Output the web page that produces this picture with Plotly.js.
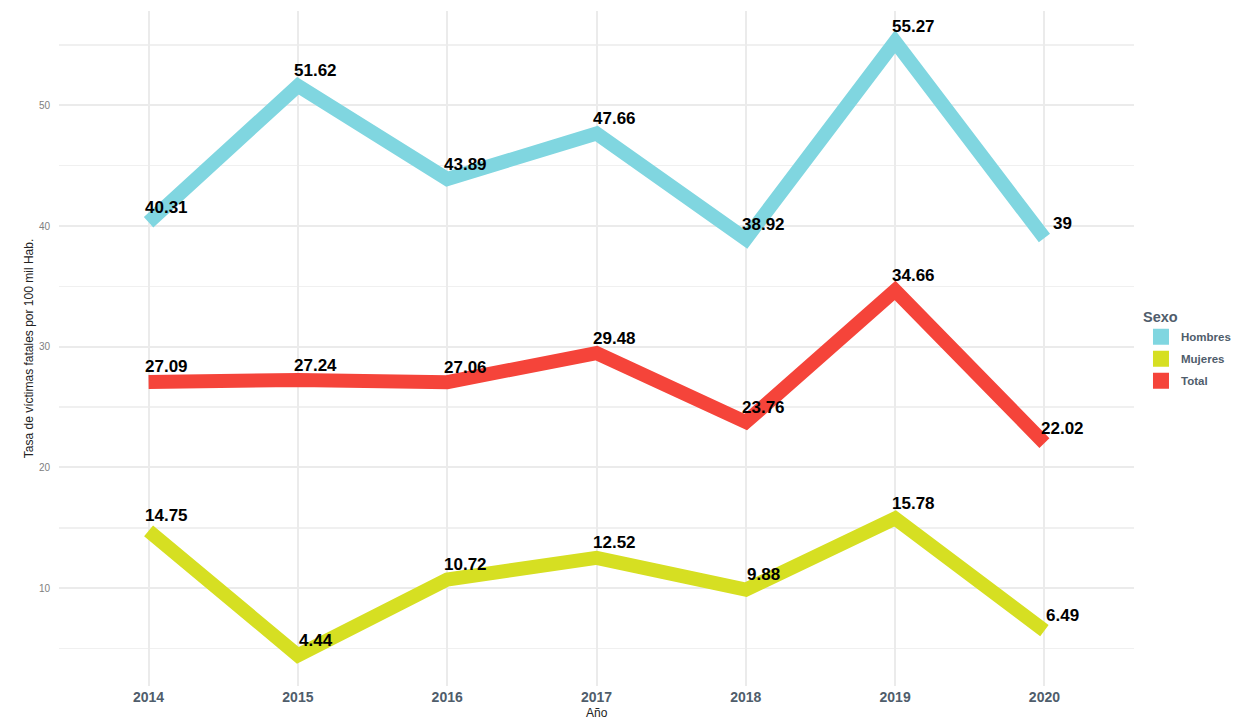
<!DOCTYPE html>
<html>
<head>
<meta charset="utf-8">
<script src="https://cdn.plot.ly/plotly-3.0.1.min.js"></script>
<style>html,body{margin:0;padding:0;background:#fff;}#chart{width:1234px;height:721px;}</style>
</head>
<body>
<div id="chart"></div>
<script>
const years = [2014, 2015, 2016, 2017, 2018, 2019, 2020];
const hombres = [40.31, 51.62, 43.89, 47.66, 38.92, 55.27, 39];
const mujeres = [14.75, 4.44, 10.72, 12.52, 9.88, 15.78, 6.49];
const total = [27.09, 27.24, 27.06, 29.48, 23.76, 34.66, 22.02];
const seriesNames = ['Hombres', 'Mujeres', 'Total'];
const seriesColors = ['#80d6e0', '#d6df22', '#f5443a'];
const seriesValues = [hombres, mujeres, total];

const traces = [];
seriesValues.forEach((vals, i) => {
  traces.push({
    x: years, y: vals, type: 'scatter', mode: 'lines',
    line: {color: seriesColors[i], width: 14},
    showlegend: false, hoverinfo: 'x+y', name: seriesNames[i]
  });
});
seriesValues.forEach((vals, i) => {
  traces.push({
    x: [null], y: [null], type: 'scatter', mode: 'markers',
    marker: {symbol: 'square', size: 17, color: seriesColors[i]},
    name: seriesNames[i], showlegend: true, legendgroup: 'g' + i
  });
});

const annotations = [];
seriesValues.forEach((vals) => {
  vals.forEach((v, j) => {
    annotations.push({
      x: years[j], y: v, xref: 'x', yref: 'y', text: String(v),
      showarrow: false, xanchor: 'center', yanchor: 'middle',
      xshift: 18, yshift: 15,
      font: {family: 'Liberation Sans, Arial, sans-serif', size: 17, color: '#000', weight: 'bold'}
    });
  });
});
annotations.push({
  x: 0.5, y: 0, xref: 'paper', yref: 'paper', yshift: -27, yanchor: 'middle',
  text: 'Año', showarrow: false,
  font: {family: 'Liberation Sans, Arial, sans-serif', size: 12, color: '#222'}
});

const layout = {
  width: 1234, height: 721,
  margin: {l: 59, r: 100, t: 11, b: 35, autoexpand: false},
  paper_bgcolor: '#fff', plot_bgcolor: '#fff',
  font: {family: 'Liberation Sans, Arial, sans-serif'},
  xaxis: {
    range: [2013.4, 2020.6], tickvals: years, ticktext: years.map(String),
    showgrid: true, gridcolor: '#ebebeb', gridwidth: 2, zeroline: false,
    showline: false, ticks: '', ticklabelstandoff: 1,
    tickfont: {size: 14, color: '#4f5d6b', weight: 'bold'}
  },
  yaxis: {
    range: [1.9, 57.81], tickvals: [10, 20, 30, 40, 50],
    showgrid: true, gridcolor: '#ebebeb', gridwidth: 2, zeroline: false,
    minor: {tickvals: [5, 15, 25, 35, 45, 55], showgrid: true, gridcolor: '#f0f0f0', gridwidth: 1.5},
    showline: false, ticks: '', ticklabelstandoff: 8,
    tickfont: {size: 10, color: '#808080'},
    title: {text: 'Tasa de víctimas fatales por 100 mil Hab.', standoff: 2,
            font: {size: 12, color: '#222'}}
  },
  showlegend: true,
  legend: {
    x: 1.0065, xanchor: 'left', y: 0.567, yanchor: 'top',
    bgcolor: 'rgba(0,0,0,0)', itemclick: false, tracegroupgap: 3,
    title: {text: 'Sexo', font: {size: 14.5, color: '#4f5d6b', weight: 'bold'}},
    font: {size: 11.5, color: '#4f5d6b', weight: 'bold'}
  },
  annotations: annotations
};

Plotly.newPlot('chart', traces, layout, {displayModeBar: false, staticPlot: true});
</script>
</body>
</html>
